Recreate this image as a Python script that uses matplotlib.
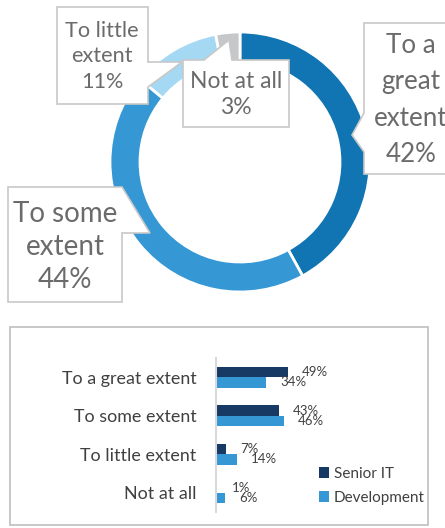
import matplotlib.pyplot as plt
from matplotlib.patches import Polygon, Rectangle, Patch

plt.rcParams['font.family'] = ['Lato', 'DejaVu Sans']

W, H = 445, 528

# donut data
slice_labels = ["To a\ngreat\nextent", "To some\nextent", "To little\nextent", "Not at all"]
slice_values = [42, 44, 11, 3]
slice_colors = ["#1175b3", "#3598d5", "#a5d8f3", "#c6c7c9"]

# bar data
categories = ["To a great extent", "To some extent", "To little extent", "Not at all"]
senior_it = [49, 43, 7, 1]
development = [34, 46, 14, 6]
series_names = ["Senior IT", "Development"]
bar_colors = ["#163a63", "#3598d5"]

fig = plt.figure(figsize=(W / 100, H / 100), dpi=100)

# full-figure axes in pixel units (y measured from bottom)
ax = fig.add_axes([0, 0, 1, 1])
ax.pie(slice_values, colors=slice_colors, startangle=90, counterclock=False,
       center=(240, H - 162), radius=130,
       wedgeprops=dict(width=30, edgecolor="white", linewidth=2))
ax.set_xlim(0, W)
ax.set_ylim(0, H)
ax.set_aspect('auto')
ax.axis('off')


def callout(pts):
    pts = [(x, H - y) for x, y in pts]
    ax.add_patch(Polygon(pts, closed=True, facecolor="white",
                         edgecolor="#c8c8c8", linewidth=1.2, zorder=5))


callout([(364, 23), (450, 23), (450, 174), (364, 174), (364, 152), (352, 135), (364, 113)])
callout([(8, 187), (122, 187), (150, 233), (122, 233), (122, 302), (8, 302)])
callout([(57, 7), (148, 7), (148, 62), (182, 62), (148, 87), (148, 104), (57, 104)])
callout([(183, 60), (204, 60), (229, 40), (232, 60), (289, 60), (289, 127), (183, 127)])

text_color = "#6b6b6b"
label_pos = [(411, 100, 18.7, 1.57), (65, 247, 20, 1.33), (102, 56.5, 15.6, 1.37), (236, 94.5, 16.5, 1.28)]
for lab, val, (x, y, fs, ls) in zip(slice_labels, slice_values, label_pos):
    ax.text(x, H - y, f"{lab}\n{val}%", ha="center", va="center", fontsize=fs,
            color=text_color, linespacing=ls, zorder=6)

# frame around the bar panel
ax.add_patch(Rectangle((10, H - 525), 418, 198, facecolor="none",
                       edgecolor="#bfbfbf", linewidth=1.2))

# bar chart
px_per_pct = 1.47
bx0, bw = 216, 150
by0, bh = 358, 154
bax = fig.add_axes([bx0 / W, (H - by0 - bh) / H, bw / W, bh / H])
bax.set_xlim(0, bw / px_per_pct)
bax.set_ylim(3.5, -0.5)
bar_h = 0.27
ypos = list(range(len(categories)))
bax.barh([y - bar_h / 2 for y in ypos], senior_it, height=bar_h, color=bar_colors[0])
bax.barh([y + bar_h / 2 for y in ypos], development, height=bar_h, color=bar_colors[1])
for y, v in zip(ypos, senior_it):
    bax.text(v + 9.5, y - bar_h / 2, f"{v}%", va="center", ha="left", fontsize=9.5, color="#404040")
for y, v in zip(ypos, development):
    bax.text(v + 9.5, y + bar_h / 2, f"{v}%", va="center", ha="left", fontsize=9.5, color="#404040")

bax.set_yticks(ypos)
bax.set_yticklabels(categories, fontsize=12.9, color="#404040")
bax.tick_params(axis="y", length=0, pad=14)
bax.set_xticks([])
for s in ["top", "right", "bottom"]:
    bax.spines[s].set_visible(False)
bax.spines["left"].set_color("#d9d9d9")
bax.spines["left"].set_linewidth(1.5)
bax.patch.set_alpha(0)

handles = [Patch(facecolor=c) for c in bar_colors]
fig.legend(handles, series_names, loc="upper left",
           bbox_to_anchor=(311 / W, 1 - 459 / H), frameon=False,
           fontsize=11, handlelength=0.7, handleheight=0.7,
           handletextpad=0.3, labelspacing=0.65, borderpad=0, labelcolor="#404040")

fig.savefig("out.png", dpi=100)
